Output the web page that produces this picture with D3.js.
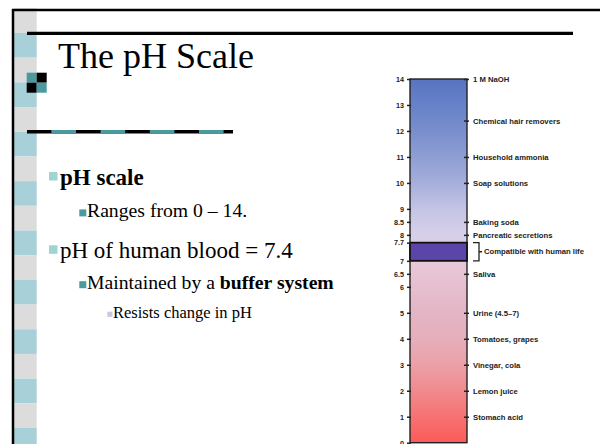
<!DOCTYPE html>
<html>
<head>
<meta charset="utf-8">
<script src="https://cdn.jsdelivr.net/npm/d3@7"></script>
<style>
  body { margin: 0; background: #fff; }
  svg { display: block; }
</style>
</head>
<body>
<script>
// chart data
var tickPH = [0, 1, 2, 3, 4, 5, 6, 6.5, 7, 7.7, 8, 8.5, 9, 10, 11, 12, 13, 14];
var examplePH = [14, 12.4, 11, 10, 8.5, 8, 6.5, 5, 4, 3, 2, 1];
var exampleNames = ["1 M NaOH", "Chemical hair removers", "Household ammonia", "Soap solutions",
  "Baking soda", "Pancreatic secretions", "Saliva", "Urine (4.5\u20137)", "Tomatoes, grapes",
  "Vinegar, cola", "Lemon juice", "Stomach acid"];
var humanRange = [7, 7.7];
var humanLabel = "Compatible with human life";
var gradPH = [0, 1, 2, 3, 4, 5, 6, 7, 8, 9, 10, 11, 12, 13, 14];
var gradColors = ["#fc5a5a", "#f67272", "#f08a8e", "#eba0a8", "#e6aebb", "#e3b5c5", "#e6bfcf",
  "#e8c8d8", "#d6d0ea", "#c4c4e4", "#a6aedb", "#8e9ed4", "#7a8ecd", "#6682c8", "#5874c0"];

// slide text
var title = "The pH Scale";
var bullets = [
  {level: 1, parts: [{t: "pH scale", b: true}]},
  {level: 2, parts: [{t: "Ranges from 0 \u2013 14."}]},
  {level: 1, parts: [{t: "pH of human blood = 7.4"}]},
  {level: 2, parts: [{t: "Maintained by a "}, {t: "buffer system", b: true}]},
  {level: 3, parts: [{t: "Resists change in pH"}]}
];

var W = 600, H = 444;
var svg = d3.select("body").append("svg").attr("width", W).attr("height", H);

// ---- slide template ----
var stripStep = 49.375;
for (var k = -1; k < 9; k++) {
  var y0 = 33 + k * stripStep;
  svg.append("rect").attr("x", 14).attr("y", Math.max(10, y0)).attr("width", 22.7)
    .attr("height", y0 + stripStep / 2 - Math.max(10, y0)).attr("fill", "#a7d0d9");
  svg.append("rect").attr("x", 14).attr("y", y0 + stripStep / 2).attr("width", 22.7)
    .attr("height", stripStep / 2).attr("fill", "#dcdcdc");
}
svg.append("line").attr("x1", 12).attr("x2", W).attr("y1", 10).attr("y2", 10)
  .attr("stroke", "#000").attr("stroke-width", 2.5);
svg.append("line").attr("x1", 13).attr("x2", 13).attr("y1", 9).attr("y2", H)
  .attr("stroke", "#000").attr("stroke-width", 2.5);
svg.append("line").attr("x1", 27).attr("x2", 573).attr("y1", 33.3).attr("y2", 33.3)
  .attr("stroke", "#000").attr("stroke-width", 3.2);

// checker icon
var cells = [[0, 0, "#4a9a9e"], [1, 0, "#000"], [0, 1, "#000"], [1, 1, "#4a9a9e"]];
cells.forEach(function(c) {
  svg.append("rect").attr("x", 26.7 + c[0] * 10).attr("y", 72.7 + c[1] * 10)
    .attr("width", 10).attr("height", 10).attr("fill", c[2]);
});

// dashed rule under the title
svg.append("line").attr("x1", 27).attr("x2", 233).attr("y1", 131.8).attr("y2", 131.8)
  .attr("stroke", "#000").attr("stroke-width", 3.4);
svg.append("line").attr("x1", 51.4).attr("x2", 224).attr("y1", 131.8).attr("y2", 131.8)
  .attr("stroke", "#4a9a9e").attr("stroke-width", 3.4).attr("stroke-dasharray", "24.6 24.6");

svg.append("text").attr("x", 58).attr("y", 68)
  .attr("font-family", "Liberation Serif").attr("font-size", 36).attr("fill", "#000")
  .text(title);

// bullets
var levelStyle = {
  1: {bx: 49, bs: 8.5, boff: 13, tx: 60, fs: 23, col: "#9fd4d0"},
  2: {bx: 79.3, bs: 7, boff: 7.3, tx: 87, fs: 19.7, col: "#4a9a9e"},
  3: {bx: 107.3, bs: 5.2, boff: 6.6, tx: 113, fs: 16.5, col: "#c8c8e4"}
};
var baselines = [185, 216.7, 258.3, 288.5, 318.3];
bullets.forEach(function(b, i) {
  var s = levelStyle[b.level];
  svg.append("rect").attr("x", s.bx).attr("y", baselines[i] - s.boff)
    .attr("width", s.bs).attr("height", s.bs).attr("fill", s.col);
  var t = svg.append("text").attr("x", s.tx).attr("y", baselines[i])
    .attr("font-family", "Liberation Serif").attr("font-size", s.fs).attr("fill", "#000");
  b.parts.forEach(function(p) {
    t.append("tspan").attr("font-weight", p.b ? "bold" : "normal").text(p.t);
  });
});

// ---- pH chart ----
var y = d3.scaleLinear().domain([0, 14]).range([442.7, 79]);
var barX0 = 410, barX1 = 467;

var grad = svg.append("defs").append("linearGradient").attr("id", "phgrad")
  .attr("gradientUnits", "userSpaceOnUse")
  .attr("x1", 0).attr("x2", 0).attr("y1", y(0)).attr("y2", y(14));
gradPH.forEach(function(p, i) {
  grad.append("stop").attr("offset", p / 14).attr("stop-color", gradColors[i]);
});

svg.append("rect").attr("x", barX0).attr("y", y(14)).attr("width", barX1 - barX0)
  .attr("height", y(0) - y(14)).attr("fill", "url(#phgrad)")
  .attr("stroke", "#222").attr("stroke-width", 1.4);

svg.append("rect").attr("x", barX0).attr("y", y(humanRange[1])).attr("width", barX1 - barX0)
  .attr("height", y(humanRange[0]) - y(humanRange[1])).attr("fill", "#5b45a8")
  .attr("stroke", "#111").attr("stroke-width", 1.8);

var leftAxis = d3.axisLeft(y).tickValues(tickPH).tickSize(4).tickPadding(3)
  .tickFormat(function(d) { return String(d); });
var gl = svg.append("g").attr("transform", "translate(411,0)").call(leftAxis);
gl.select(".domain").remove();
gl.selectAll("line").attr("stroke", "#222").attr("stroke-width", 1.5);
gl.selectAll("text").attr("font-family", "Liberation Sans").attr("font-weight", "bold")
  .attr("font-size", 7.2).attr("fill", "#222");

var rightAxis = d3.axisRight(y).tickValues(examplePH).tickSize(5).tickPadding(4)
  .tickFormat(function(d, i) { return exampleNames[i]; });
var gr = svg.append("g").attr("transform", "translate(464,0)").call(rightAxis);
gr.select(".domain").remove();
gr.selectAll("line").attr("stroke", "#222").attr("stroke-width", 1.5);
gr.selectAll("text").attr("font-family", "Liberation Sans").attr("font-weight", "bold")
  .attr("font-size", 7.7).attr("fill", "#222");

// bracket for the human range
var yTop = y(humanRange[1]), yBot = y(humanRange[0]), yMid = (yTop + yBot) / 2;
svg.append("path")
  .attr("d", "M473," + yTop + "H479V" + yBot + "H473M479," + yMid + "H482")
  .attr("fill", "none").attr("stroke", "#222").attr("stroke-width", 1.3);
svg.append("text").attr("x", 484).attr("y", yMid).attr("dy", "0.32em")
  .attr("font-family", "Liberation Sans").attr("font-weight", "bold")
  .attr("font-size", 7.7).attr("fill", "#222").text(humanLabel);
</script>
</body>
</html>
